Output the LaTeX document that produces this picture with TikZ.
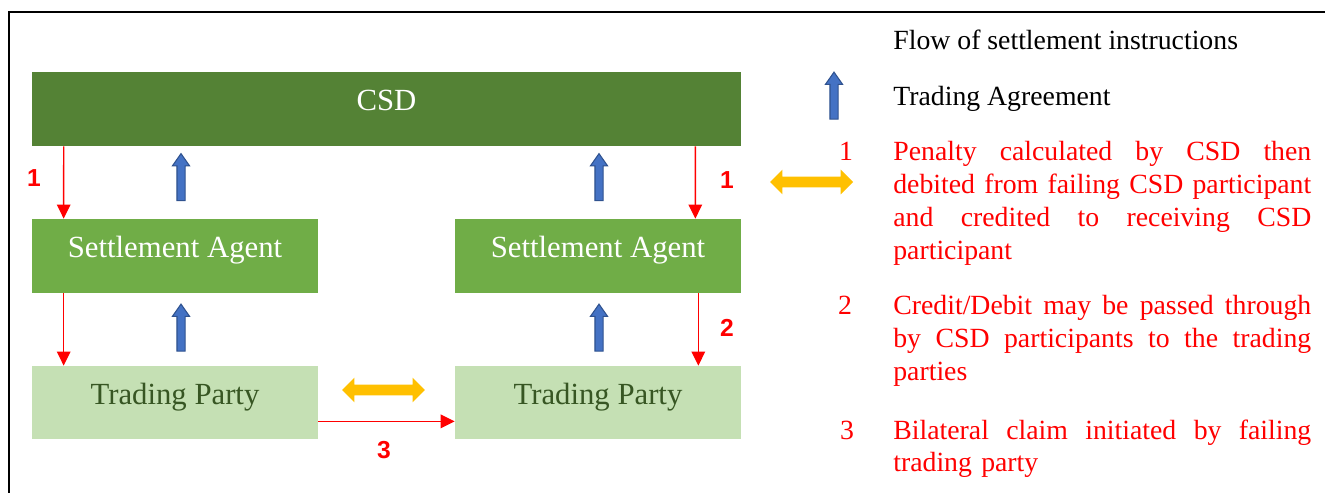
\documentclass[tikz,border=0pt]{standalone}
\usepackage{fontspec}
\setmainfont{Liberation Serif}
\newfontfamily\numfont{Liberation Sans}
\usetikzlibrary{arrows.meta,shapes.arrows}
\definecolor{csdgreen}{HTML}{548235}
\definecolor{agentgreen}{HTML}{70AD47}
\definecolor{partygreen}{HTML}{C5E0B4}
\definecolor{partytext}{HTML}{375623}
\definecolor{agreeblue}{HTML}{4472C4}
\definecolor{agreeedge}{HTML}{2F528F}
\definecolor{bilatyellow}{HTML}{FFC000}
\definecolor{flowred}{HTML}{FF0000}
\newcommand{\jline}[1]{\makebox[8.36cm][s]{\spaceskip=0pt\xspaceskip=0pt #1}}

\begin{document}
\begin{tikzpicture}[x=0.02cm, y=-0.02cm,
			box/.style={rectangle, inner sep=0pt, text height=11pt, text depth=9pt,
				font=\fontsize{17.5}{21}\selectfont, minimum width=5.72cm, minimum height=1.48cm},
			flow/.style={draw=flowred, line width=0.8pt, -{Triangle[length=0.28cm,width=0.27cm]}},
			num/.style={text=flowred, font=\numfont\bfseries\fontsize{14}{16}\selectfont},
			agree/.style={single arrow, shape border rotate=90, fill=agreeblue, draw=agreeedge,
				line width=0.6pt, inner sep=0.07cm, single arrow head extend=0.09cm,
				single arrow tip angle=70, minimum height=0.94cm},
			bilat/.style={double arrow, fill=bilatyellow, inner sep=0.1cm,
				double arrow head extend=0.14cm, minimum height=1.66cm},
			legend/.style={text=flowred, font=\fontsize{15.8}{18.75}\selectfont, inner sep=0pt},
			dtext/.style={legend, text width=8.36cm, align=left, anchor=base west}]
			
			\useasboundingbox (0,0) rectangle (1325,493);
			
			% frame
			\draw[line width=1.1pt] (9,493) -- (9,12) -- (1325,12);
			
			% Define the boxes
			\node[box, fill=csdgreen, text=white, minimum width=14.18cm] (csd) at (386.5,109) {CSD};
			\node[box, fill=agentgreen, text=white] (sal) at (175,256) {Settlement Agent};
			\node[box, fill=agentgreen, text=white] (sar) at (598,256) {Settlement Agent};
			\node[box, fill=partygreen, text=partytext, minimum height=1.46cm] (tpl) at (175,402.5) {Trading Party};
			\node[box, fill=partygreen, text=partytext, minimum height=1.46cm] (tpr) at (598,402.5) {Trading Party};
			
			% Flow of settlement instructions
			\draw[flow] ([xshift=0.64cm]csd.south west) -- ([xshift=0.64cm]sal.north west);
			\draw[flow] ([xshift=0.64cm]sal.south west) -- ([xshift=0.64cm]tpl.north west);
			\draw[flow] ([xshift=-0.92cm]csd.south east) -- ([xshift=-0.92cm]sar.north east);
			\draw[flow] ([xshift=-0.86cm]sar.south east) -- ([xshift=-0.86cm]tpr.north east);
			\draw[flow] ([yshift=0.36cm]tpl.south east) -- ([yshift=0.36cm]tpr.south west);
			
			\node[num] (n1l) at (34,178) {1};
			\node[num] (n1r) at (727,180) {1};
			\node[num] (n2r) at (727,328) {2};
			\node[num] (n3) at (384,450) {3};
			
			% Trading agreements
			\node[agree] (ag1) at (181,180) {};
			\node[agree] (ag2) at (181,330.5) {};
			\node[agree] (ag3) at (599,180) {};
			\node[agree] (ag4) at (599,330.5) {};
			\node[bilat] (bl1) at (383.5,390) {};
			
			% Legend
			\node[legend, text=black, anchor=base west] (flowkey) at (893,50) {Flow of settlement instructions};
			\node[agree] (agkey) at (834,98.5) {};
			\node[legend, text=black, anchor=base west] (agreekey) at (893,106) {Trading Agreement};
			\node[bilat] (blkey) at (811.5,182) {};
			
			\node[legend, anchor=base] (k1) at (846,161) {1};
			\node[dtext] (d1) at (893,161) {\jline{Penalty calculated by CSD then}\\\jline{debited from failing CSD participant}\\\jline{and credited to receiving CSD}\\participant};
			\node[legend, anchor=base] (k2) at (845,315) {2};
			\node[dtext] (d2) at (893,315) {\jline{Credit/Debit may be passed through}\\\jline{by CSD participants to the trading}\\parties};
			\node[legend, anchor=base] (k3) at (847,439) {3};
			\node[dtext] (d3) at (893,439) {\jline{Bilateral claim initiated by failing}\\trading party};
		\end{tikzpicture}
\end{document}
